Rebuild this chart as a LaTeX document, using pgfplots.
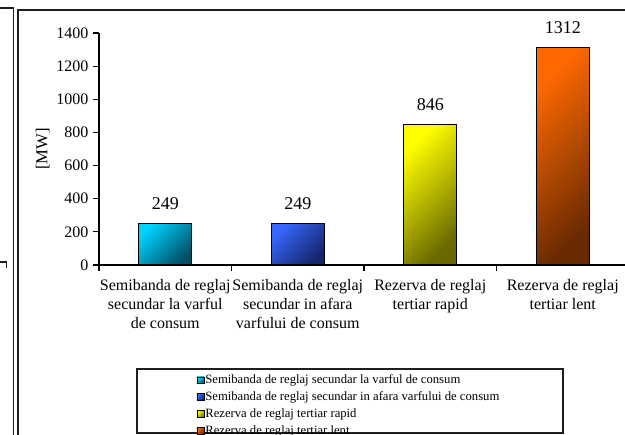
\documentclass[border=0pt]{standalone}
\usepackage{fontspec}
\setmainfont{Liberation Serif}
\usepackage{pgfplots}
\pgfplotsset{compat=1.18}
\definecolor{c1a}{RGB}{0,210,255}
\definecolor{c1b}{RGB}{0,80,100}
\definecolor{c2a}{RGB}{55,105,255}
\definecolor{c2b}{RGB}{22,36,105}
\definecolor{c3a}{RGB}{255,255,0}
\definecolor{c3b}{RGB}{105,105,0}
\definecolor{c4a}{RGB}{255,105,0}
\definecolor{c4b}{RGB}{105,42,0}
\definecolor{frm}{RGB}{30,30,30}
\begin{document}
\begin{tikzpicture}
\useasboundingbox (0,0) rectangle (468.75pt,-326.25pt);
\clip (0,0) rectangle (468.75pt,-326.25pt);
\begin{scope}[x=0.75pt,y=-0.75pt]
\draw[line width=1.1pt, frm] (-5,8) -- (13.5,8) -- (13.5,445);
\draw[line width=1.1pt, frm] (18,445) -- (18,10) -- (640,10);
\draw[line width=1.1pt, frm] (-5,262) -- (6.5,262) -- (6.5,268);
\draw[line width=1.1pt, frm] (137,369) rectangle (563,433);
\end{scope}
\begin{axis}[
  at={(74.25pt,-198.75pt)}, anchor=south west,
  scale only axis, width=397.5pt, height=174pt,
  xmin=-0.5, xmax=3.5, ymin=0, ymax=1400,
  axis x line*=bottom, axis y line*=left,
  axis line style={-, line width=0.9pt, black},
  tick align=outside,
  major tick length=4.5pt,
  every tick/.style={black, line width=0.9pt},
  ytick={0,200,400,600,800,1000,1200,1400},
  xtick={-0.5,0.5,1.5,2.5,3.5},
  xticklabels={},
  extra x ticks={0,1,2,3},
  extra x tick labels={Semibanda de reglaj\\secundar la varful\\de consum,
    Semibanda de reglaj\\secundar in afara\\varfului de consum,
    Rezerva de reglaj\\tertiar rapid,
    Rezerva de reglaj\\tertiar lent},
  extra x tick style={major tick length=0pt, grid=none,
    tick label style={align=center, font=\fontsize{12}{14.25}\selectfont, yshift=-7pt}},
  /pgf/number format/assume math mode=true,
  /pgf/number format/1000 sep={},
  tick label style={font=\fontsize{12}{13.5}\selectfont},
  ylabel={[MW]},
  ylabel style={at={(axis description cs:-0.106,0.5)}, anchor=center, font=\fontsize{12.5}{14}\selectfont},
  legend style={draw=none, fill=none, at={(0.176,-0.455)}, anchor=north west,
    font=\fontsize{9.5}{11}\selectfont, row sep=2.2pt,
    nodes={inner sep=0.6pt, text height=7pt, text depth=2.2pt}},
  legend cell align=left,
  mybar/.style={ybar, bar width=0.4, bar shift=0pt, draw=black, line width=0.9pt,
    nodes near coords,
    nodes near coords style={font=\fontsize{13.5}{15}\selectfont, black, yshift=7pt},
    legend image code/.code={\draw[##1, line width=0.6pt] (0pt,-2.6pt) rectangle (5.4pt,2.6pt);}},
]
\addplot[mybar, top color=c1a, bottom color=c1b, shading angle=45] coordinates {(0,249)};
\addplot[mybar, top color=c2a, bottom color=c2b, shading angle=45] coordinates {(1,249)};
\addplot[mybar, top color=c3a, bottom color=c3b, shading angle=45] coordinates {(2,846)};
\addplot[mybar, top color=c4a, bottom color=c4b, shading angle=45] coordinates {(3,1312)};
\legend{Semibanda de reglaj secundar la varful de consum,
  Semibanda de reglaj secundar in afara varfului de consum,
  Rezerva de reglaj tertiar rapid,
  Rezerva de reglaj tertiar lent}
\end{axis}
\end{tikzpicture}
\end{document}
